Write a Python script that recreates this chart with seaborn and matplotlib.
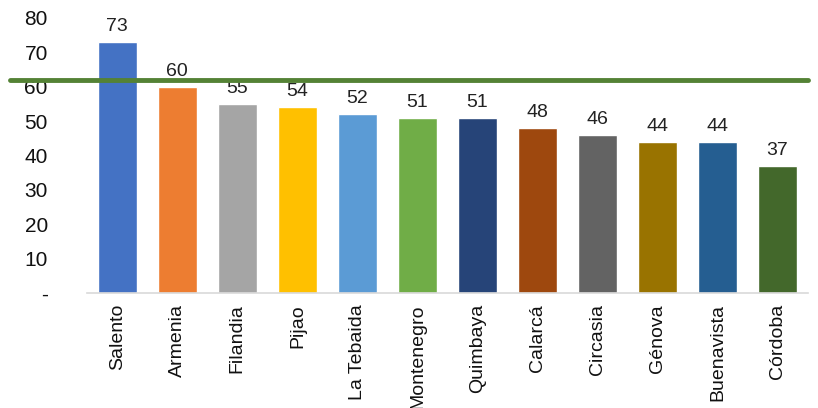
import pandas as pd
import matplotlib.pyplot as plt
import seaborn as sns

municipios = ['Salento', 'Armenia', 'Filandia', 'Pijao', 'La Tebaida', 'Montenegro',
              'Quimbaya', 'Calarcá', 'Circasia', 'Génova', 'Buenavista', 'Córdoba']
valores = [73, 60, 55, 54, 52, 51, 51, 48, 46, 44, 44, 37]
referencia = 62
y_ticks = [0, 10, 20, 30, 40, 50, 60, 70, 80]
y_labels = ['-', '10', '20', '30', '40', '50', '60', '70', '80']

colores = ['#4472C4', '#ED7D31', '#A5A5A5', '#FFC000', '#5B9BD5', '#70AD47',
           '#264478', '#9E480E', '#636363', '#997300', '#255E91', '#43682B']

df = pd.DataFrame({'Municipio': municipios, 'Valor': valores})

sns.set_style("white")
plt.rcParams['font.family'] = ['Liberation Sans', 'DejaVu Sans']

fig = plt.figure(figsize=(8.18, 4.08), dpi=100)
ax = fig.add_axes([0.106, 0.282, 0.882, 0.674])

sns.barplot(data=df, x='Municipio', y='Valor', hue='Municipio', palette=colores,
            width=0.65, saturation=1, legend=False, ax=ax)

for p, v in zip(ax.patches, valores):
    ax.annotate(f'{v}', (p.get_x() + p.get_width() / 2, p.get_height()),
                ha='center', va='bottom', xytext=(0, 5), textcoords='offset points',
                fontsize=14, color='#222222')

# linea de referencia
ax.axhline(referencia, xmin=-0.107, xmax=1.0, color='#548235', lw=3.5, clip_on=False, zorder=5)

ax.set_ylim(0, 80)
ax.set_xlim(-0.51, 11.51)
ax.set_yticks(y_ticks)
ax.set_yticklabels(y_labels, fontsize=15, color='#111111')
ax.tick_params(axis='y', length=0, pad=28)
ax.tick_params(axis='x', length=0, pad=8)
plt.setp(ax.get_xticklabels(), rotation=90, fontsize=14, color='#111111')
ax.set_xlabel('')
ax.set_ylabel('')
for s in ['top', 'right', 'left']:
    ax.spines[s].set_visible(False)
ax.spines['bottom'].set_color('#D9D9D9')
ax.spines['bottom'].set_linewidth(1.2)

plt.savefig('out.png', dpi=100)
